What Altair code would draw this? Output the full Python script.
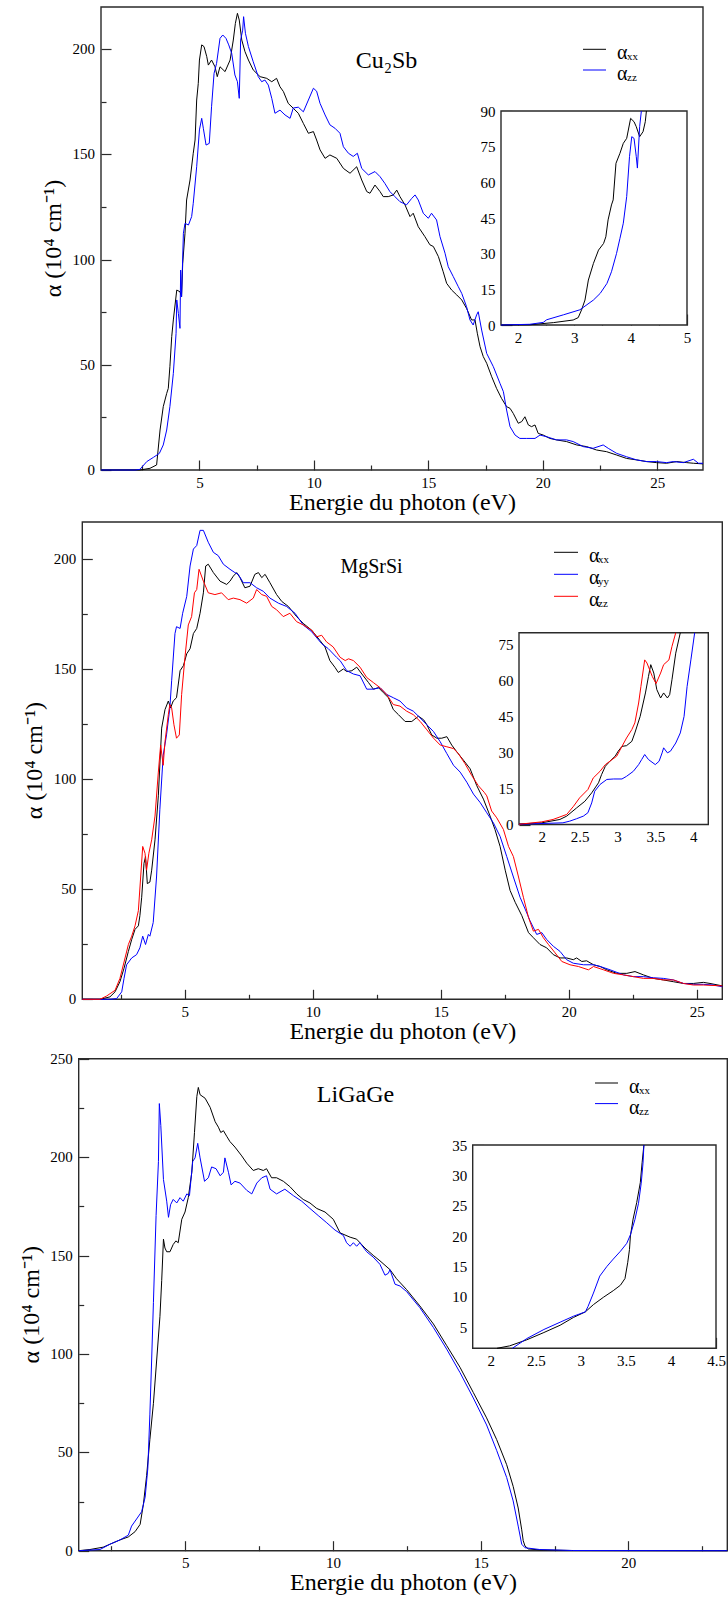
import altair as alt
import pandas as pd

W, H = 728, 1601
FONT = "Liberation Serif"
INK = "#2a2a2a"

# ------------------------------------------------------------------ data
# (photon energy eV, alpha 1e4 cm^-1)
CU_XX = [(0.7,0),(2.4,0),(2.84,0.8),(3.13,2.4),(3.28,19.0),(3.42,30.1),(3.57,36.4),(3.64,38.8),(3.71,49.1),
         (3.79,63.4),(3.86,71.3),(4.01,85.5),(4.15,84.7),(4.22,82.3),(4.27,98.2),(4.37,112.5),(4.44,128.3),
         (4.59,137.8),(4.73,150.5),(4.81,156.8),(4.88,175.8),(4.95,183.7),(5.0,194.8),(5.1,202.0),(5.2,201.2),
         (5.32,196.4),(5.39,192.4),(5.53,194.8),(5.68,191.6),(5.78,186.9),(5.9,191.6),(6.12,189.3),(6.34,194.8),
         (6.48,204.3),(6.57,212.2),(6.66,217.0),(6.74,213.8),(6.85,204.3),(6.99,198.8),(7.14,194.8),(7.35,190.1),
         (7.65,186.9),(7.94,186.1),(8.16,184.5),(8.37,186.1),(8.52,182.1),(8.67,179.8),(8.88,174.2),(9.1,171.9),
         (9.32,169.5),(9.54,164.7),(9.76,160.0),(9.98,160.8),(10.12,156.8),(10.27,152.1),(10.49,148.1),
         (10.7,149.7),(11.0,148.1),(11.29,143.3),(11.58,141.0),(11.87,144.1),(12.09,137.8),(12.31,132.3),
         (12.45,131.5),(12.67,135.4),(12.89,132.3),(13.03,129.9),(13.25,129.9),(13.47,130.7),(13.62,133.0),
         (13.76,129.9),(13.98,126.0),(14.2,120.4),(14.34,122.0),(14.56,115.6),(14.85,110.9),(15.07,107.0),
         (15.22,106.2),(15.44,101.4),(15.65,94.2),(15.8,88.7),(16.02,85.5),(16.24,83.2),(16.46,80.8),
         (16.67,76.8),(16.89,71.3),(17.04,71.3),(17.14,65.0),(17.26,58.6),(17.4,53.9),(17.55,50.7),(17.77,44.3),
         (17.98,38.8),(18.2,34.0),(18.42,30.1),(18.57,29.3),(18.71,26.9),(18.93,22.2),(19.08,23.0),(19.22,25.3),
         (19.37,21.4),(19.51,20.6),(19.66,21.4),(19.8,17.4),(20.02,16.6),(20.31,15.0),(20.6,14.3),(21.04,13.5),
         (21.48,11.9),(21.92,11.1),(22.35,9.5),(22.79,8.7),(23.23,7.1),(23.66,5.5),(24.1,4.8),(24.54,4.0),
         (24.97,3.5),(25.41,3.2),(25.85,4.0),(26.29,3.5),(26.58,3.2),(27.0,2.9)]
CU_ZZ = [(0.7,0),(2.19,0),(2.4,0.3),(2.7,4.0),(2.99,6.0),(3.25,7.9),(3.42,11.9),(3.57,19.0),(3.71,30.1),
         (3.86,45.9),(3.98,64.9),(4.01,80.8),(4.08,74.4),(4.15,67.3),(4.18,95.0),(4.22,82.3),(4.3,112.5),
         (4.37,117.2),(4.52,116.4),(4.66,120.4),(4.73,126.7),(4.88,144.1),(5.0,161.6),(5.1,167.1),(5.17,162.4),
         (5.29,154.4),(5.43,155.2),(5.53,172.6),(5.64,188.5),(5.75,193.2),(5.9,205.1),(6.02,206.7),(6.16,205.1),
         (6.28,202.0),(6.41,198.0),(6.55,187.7),(6.66,184.5),(6.74,176.6),(6.8,204.3),(6.89,209.0),(6.93,215.4),
         (7.01,207.5),(7.14,201.2),(7.35,194.0),(7.57,186.9),(7.72,184.5),(7.86,185.3),(8.01,182.9),(8.16,176.6),
         (8.3,169.5),(8.52,171.0),(8.74,168.7),(8.96,167.1),(9.1,172.0),(9.32,172.4),(9.54,170.2),(9.76,175.8),
         (9.98,181.4),(10.12,180.0),(10.27,174.2),(10.49,168.7),(10.7,164.0),(10.92,162.4),(11.14,160.0),
         (11.29,153.6),(11.51,150.5),(11.72,149.0),(11.9,150.5),(12.09,143.3),(12.38,140.2),(12.67,141.8),
         (12.89,139.4),(13.1,136.2),(13.32,132.3),(13.54,129.9),(13.76,127.5),(14.05,126.0),(14.27,129.0),
         (14.42,130.7),(14.56,128.3),(14.78,122.0),(15.0,119.6),(15.14,122.0),(15.36,118.8),(15.51,110.9),
         (15.73,103.0),(15.87,96.6),(16.09,91.9),(16.31,87.1),(16.46,83.9),(16.67,77.6),(16.82,71.3),(16.96,68.9),
         (17.11,73.7),(17.18,75.2),(17.33,66.5),(17.55,55.4),(17.84,49.1),(18.13,41.2),(18.28,37.2),(18.42,28.5),
         (18.57,20.6),(18.79,16.6),(19.0,15.0),(19.3,15.0),(19.66,15.0),(19.88,16.6),(20.17,15.8),(20.6,14.3),
         (21.04,14.3),(21.33,13.5),(21.77,11.1),(22.2,10.3),(22.64,11.9),(22.86,10.3),(23.23,7.9),(23.66,6.3),
         (24.1,4.8),(24.54,4.0),(24.97,4.0),(25.41,3.5),(25.7,4.0),(26.14,3.5),(26.58,5.1),(26.8,3.2),(27.0,3.2)]
CU_IN_XX = [(1.7,0),(2.21,0.1),(2.63,1.0),(2.98,2.1),(3.07,3.1),(3.13,6.4),(3.19,10.5),(3.25,18.9),(3.34,25.9),
            (3.43,31.5),(3.52,34.3),(3.56,37.1),(3.6,44.2),(3.66,50.5),(3.69,52.6),(3.74,68.0),(3.81,72.2),
            (3.87,76.4),(3.93,78.5),(4.0,86.9),(4.06,85.5),(4.1,83.4),(4.16,79.2),(4.22,81.3),(4.26,85.5),(4.28,90)]
CU_IN_ZZ = [(1.7,0),(2.21,0.3),(2.45,1.1),(2.51,2.2),(2.81,4.3),(3.1,6.4),(3.34,10.5),(3.46,13.3),(3.58,17.5),
            (3.66,22.4),(3.75,30.1),(3.81,36.4),(3.87,42.8),(3.93,54.0),(3.98,70.8),(4.02,79.2),(4.06,78.5),
            (4.1,70.8),(4.12,66.0),(4.16,83.4),(4.19,90)]

MG_XX = [(1.0,0),(1.69,0),(2.08,1.1),(2.28,3.4),(2.47,8.0),(2.63,14.1),(2.8,21.8),(2.93,27.2),(3.06,31.8),
         (3.19,33.4),(3.25,38.0),(3.32,46.4),(3.41,61.8),(3.47,64.9),(3.54,52.6),(3.64,53.3),(3.71,58.7),
         (3.84,72.5),(3.97,92.5),(4.1,123.3),(4.23,131.7),(4.36,135.6),(4.45,132.5),(4.55,135.6),(4.68,137.1),
         (4.82,149.4),(4.95,151.7),(5.08,157.1),(5.21,159.4),(5.34,166.3),(5.47,168.6),(5.6,175.5),(5.73,184.8),
         (5.82,197.0),(5.92,197.8),(6.12,194.0),(6.38,190.1),(6.64,188.6),(6.77,190.1),(6.9,192.4),(7.03,194.0),
         (7.16,191.7),(7.35,187.1),(7.55,187.8),(7.74,193.2),(7.88,194.0),(8.01,191.7),(8.14,193.2),(8.33,189.4),
         (8.59,184.0),(8.79,180.9),(9.05,178.6),(9.37,174.0),(9.63,170.9),(9.96,167.8),(10.28,163.2),
         (10.48,160.2),(10.67,154.0),(10.87,150.9),(11.0,148.6),(11.2,150.2),(11.33,149.0),(11.53,149.4),
         (11.72,151.0),(11.92,147.9),(12.18,144.0),(12.37,141.0),(12.57,141.7),(12.76,139.4),(12.96,137.1),
         (13.15,131.7),(13.35,129.4),(13.61,126.3),(13.87,126.3),(14.13,128.7),(14.33,127.1),(14.46,124.8),
         (14.65,120.2),(14.85,118.7),(15.04,118.7),(15.24,119.4),(15.43,115.6),(15.63,112.5),(15.89,108.7),
         (16.15,104.8),(16.41,97.1),(16.67,91.0),(16.93,83.3),(17.12,77.2),(17.32,69.5),(17.52,58.7),(17.71,49.5),
         (17.91,44.1),(18.17,38.0),(18.43,30.3),(18.62,28.0),(18.88,24.9),(19.14,23.4),(19.4,20.3),(19.66,18.8),
         (19.92,18.8),(20.18,18.0),(20.31,18.8),(20.51,17.2),(20.7,17.5),(20.97,15.7),(21.23,14.9),(21.49,13.4),
         (21.88,11.8),(22.27,11.8),(22.59,12.6),(22.92,11.1),(23.31,9.5),(23.7,8.8),(24.09,8.0),(24.48,7.2),
         (24.87,7.2),(25.26,7.7),(25.52,7.2),(26.0,6.1)]
MG_YY = [(1.0,0),(2.08,0),(2.34,0.3),(2.54,3.4),(2.63,9.5),(2.73,15.7),(2.93,18.8),(3.12,20.3),(3.25,23.4),
         (3.36,28.7),(3.47,24.9),(3.58,29.5),(3.64,28.7),(3.77,34.9),(3.9,55.6),(4.03,86.4),(4.16,111.0),
         (4.29,120.2),(4.42,132.5),(4.49,144.8),(4.62,166.3),(4.68,169.4),(4.82,168.6),(4.92,175.5),(5.08,183.2),
         (5.21,197.0),(5.34,204.7),(5.47,206.3),(5.6,213.2),(5.73,213.2),(5.92,207.8),(6.12,203.2),(6.31,201.7),
         (6.51,197.8),(6.77,195.5),(6.96,194.0),(7.09,193.2),(7.29,189.4),(7.55,189.4),(7.81,187.1),(8.07,185.5),
         (8.33,182.4),(8.66,180.1),(8.98,178.6),(9.31,175.5),(9.63,170.2),(9.96,167.1),(10.35,161.7),
         (10.61,159.4),(10.93,155.5),(11.07,154.0),(11.33,149.4),(11.59,147.9),(11.85,147.1),(12.11,141.0),
         (12.37,141.0),(12.63,141.7),(12.89,138.6),(13.15,137.1),(13.41,135.6),(13.67,132.5),(13.93,131.0),
         (14.2,127.9),(14.46,124.8),(14.72,121.7),(14.98,117.1),(15.24,111.7),(15.5,106.4),(15.76,103.3),
         (16.02,98.7),(16.28,93.3),(16.54,89.5),(16.8,84.8),(17.06,80.2),(17.32,74.1),(17.58,64.9),(17.84,55.6),
         (18.1,46.4),(18.3,41.0),(18.49,35.7),(18.75,29.5),(18.95,30.3),(19.14,27.2),(19.4,24.1),(19.66,21.8),
         (19.92,18.0),(20.18,16.4),(20.58,15.7),(20.97,15.7),(21.23,14.9),(21.62,13.4),(22.14,11.1),(22.53,10.3),
         (22.92,10.3),(23.31,9.8),(23.7,9.5),(24.09,8.8),(24.48,7.2),(24.87,6.8),(25.26,6.8),(25.65,6.5),(26.0,5.7)]
MG_ZZ = [(1.0,0),(1.69,0),(1.95,1.5),(2.28,4.1),(2.47,9.5),(2.67,18.8),(2.8,24.9),(2.93,28.7),(3.06,33.4),
         (3.19,40.3),(3.28,55.6),(3.36,69.5),(3.45,66.4),(3.51,58.7),(3.6,66.4),(3.71,72.5),(3.84,83.3),
         (3.97,103.3),(4.06,115.6),(4.16,106.4),(4.23,117.1),(4.36,129.4),(4.42,134.0),(4.49,132.5),(4.58,124.8),
         (4.68,118.7),(4.79,120.2),(4.88,138.6),(5.01,155.5),(5.14,170.2),(5.27,174.0),(5.38,184.8),(5.47,186.3),
         (5.56,195.5),(5.73,190.1),(5.92,184.8),(6.18,184.0),(6.44,184.8),(6.7,181.7),(6.9,182.4),(7.16,181.7),
         (7.42,180.1),(7.68,182.4),(7.81,186.3),(8.01,184.0),(8.2,183.2),(8.4,178.6),(8.59,177.1),(8.85,174.0),
         (9.11,175.5),(9.37,171.7),(9.63,170.2),(9.96,167.8),(10.15,164.8),(10.35,165.5),(10.54,162.5),
         (10.8,160.2),(11.07,155.5),(11.27,154.0),(11.4,154.8),(11.59,154.0),(11.85,151.0),(12.11,146.3),
         (12.37,144.0),(12.63,141.7),(12.89,138.6),(13.15,134.0),(13.41,133.3),(13.67,131.0),(13.93,129.4),
         (14.2,126.3),(14.46,122.5),(14.72,118.7),(14.98,115.6),(15.24,114.8),(15.5,114.0),(15.69,111.7),
         (15.95,107.1),(16.21,101.8),(16.47,97.1),(16.7,94.1),(16.8,92.5),(16.99,85.6),(17.19,82.5),(17.45,77.2),
         (17.65,69.5),(17.84,64.9),(18.04,55.6),(18.23,46.4),(18.43,37.2),(18.62,31.0),(18.82,31.8),(19.01,28.0),
         (19.21,24.9),(19.47,21.1),(19.73,17.2),(20.05,15.7),(20.38,14.9),(20.77,13.4),(20.97,14.9),(21.36,13.4),
         (21.75,11.8),(22.14,11.1),(22.53,10.3),(22.92,9.5),(23.31,9.5),(23.7,8.8),(24.09,8.8),(24.48,7.2),
         (24.87,6.5),(25.26,6.5),(26.0,6.1)]
MG_IN_XX = [(1.7,0.2),(2.0,0.7),(2.24,2.1),(2.33,3.5),(2.46,6.9),(2.57,9.7),(2.66,13.2),(2.75,17.4),(2.79,20.8),
            (2.84,24.3),(2.9,26.4),(2.97,28.5),(3.01,30.6),(3.06,32.6),(3.12,32.9),(3.19,34.7),(3.23,38.2),
            (3.3,45.1),(3.37,54.9),(3.41,61.8),(3.44,66.7),(3.48,63.2),(3.52,56.3),(3.57,52.8),(3.61,54.9),
            (3.66,52.8),(3.69,54.2),(3.72,60.4),(3.77,71.5),(3.83,80)]
MG_IN_YY = [(1.7,0.1),(2.28,0.7),(2.37,1.4),(2.46,2.4),(2.55,3.5),(2.61,4.9),(2.66,9.0),(2.7,13.9),(2.77,16.7),
            (2.86,18.8),(2.95,19.0),(3.06,19.0),(3.12,20.1),(3.21,22.2),(3.28,25.0),(3.32,27.1),(3.36,29.2),
            (3.41,27.1),(3.5,25.0),(3.55,26.4),(3.59,29.9),(3.61,32.0),(3.66,29.9),(3.7,30.6),(3.77,34.0),
            (3.83,38.2),(3.88,45.1),(3.92,57.6),(3.97,68.7),(4.02,80)]
MG_IN_ZZ = [(1.7,0.1),(2.0,1.1),(2.15,2.1),(2.33,4.2),(2.42,7.6),(2.5,11.1),(2.61,14.6),(2.68,19.4),(2.77,22.2),
            (2.84,25.0),(2.93,27.1),(2.99,28.5),(3.06,32.6),(3.12,36.1),(3.19,39.6),(3.23,42.4),(3.28,50.7),
            (3.31,57.6),(3.36,68.7),(3.39,67.4),(3.46,61.8),(3.51,58.8),(3.57,63.2),(3.61,66.7),(3.68,68.7),
            (3.72,74.3),(3.77,80)]

LI_XX = [(1.39,0),(1.77,0.6),(2.22,1.8),(2.51,3.7),(2.79,5.5),(3.07,7.0),(3.3,9.7),(3.47,13.4),(3.58,23.5),
         (3.69,38.2),(3.8,56.5),(3.92,74.9),(4.03,96.9),(4.14,118.9),(4.2,137.2),(4.26,158.3),(4.31,153.8),
         (4.37,151.9),(4.48,151.9),(4.59,155.6),(4.68,157.4),(4.76,156.5),(4.88,168.4),(4.99,172.1),(5.1,179.4),
         (5.22,192.3),(5.31,212.5),(5.39,230.8),(5.44,235.4),(5.5,231.7),(5.67,229.9),(5.84,225.3),(6.01,218.0),
         (6.12,215.2),(6.2,212.5),(6.29,213.4),(6.4,210.6),(6.51,207.9),(6.68,205.1),(6.91,200.6),(7.08,196.9),
         (7.3,193.2),(7.47,194.1),(7.64,193.2),(7.75,194.1),(7.92,189.5),(8.09,189.5),(8.32,187.7),(8.54,185.0),
         (8.77,181.3),(8.99,178.5),(9.22,176.7),(9.45,173.9),(9.73,172.1),(10.01,168.4),(10.24,161.5),
         (10.58,159.3),(10.8,158.3),(11.08,153.8),(11.36,150.1),(11.59,147.3),(11.93,142.8),(12.15,138.2),
         (12.49,132.7),(12.94,124.4),(13.4,115.2),(13.85,104.2),(14.3,93.2),(14.75,80.4),(15.2,67.5),
         (15.54,56.5),(15.88,43.7),(16.1,32.7),(16.27,21.7),(16.39,10.6),(16.44,5.1),(16.5,2.4),(16.61,0.9),
         (17.0,0.4),(18.1,0.1),(23.35,0)]
LI_ZZ = [(1.39,0),(2.11,0.6),(2.45,3.3),(2.79,5.5),(3.07,7.9),(3.18,12.5),(3.35,16.1),(3.52,19.8),(3.64,27.2),
         (3.73,41.8),(3.8,69.4),(3.86,96.9),(3.92,126.2),(4.01,170.3),(4.09,197.8),(4.12,227.2),(4.17,216.1),
         (4.26,188.6),(4.37,177.6),(4.43,169.4),(4.5,175.8),(4.59,178.5),(4.71,176.7),(4.82,179.4),(4.93,177.6),
         (5.05,181.3),(5.14,180.4),(5.25,197.8),(5.33,199.6),(5.42,207.0),(5.5,199.6),(5.65,187.7),(5.78,189.5),
         (5.89,195.0),(6.04,194.1),(6.18,190.5),(6.29,192.3),(6.34,199.6),(6.46,192.3),(6.55,185.9),(6.68,187.7),
         (6.85,186.8),(7.08,183.1),(7.25,181.3),(7.42,186.8),(7.59,189.5),(7.75,190.5),(7.87,183.7),(8.09,181.3),
         (8.37,183.7),(8.66,180.4),(8.94,177.6),(9.22,173.9),(9.5,170.3),(9.79,166.6),(10.07,162.9),(10.35,160.2),
         (10.46,156.5),(10.58,154.7),(10.69,156.5),(10.8,154.7),(10.91,156.5),(11.14,151.9),(11.36,149.2),
         (11.59,145.5),(11.76,140.0),(11.87,140.9),(11.93,142.8),(12.1,135.4),(12.27,134.5),(12.49,131.7),
         (12.94,123.5),(13.4,113.4),(13.85,102.4),(14.3,90.5),(14.75,77.6),(15.2,63.9),(15.54,51.0),(15.88,37.2),
         (16.1,25.3),(16.27,12.5),(16.39,3.3),(16.5,1.5),(17.0,0.6),(18.1,0.1),(23.35,0)]
LI_IN_XX = [(2.07,1.5),(2.21,1.9),(2.4,2.9),(2.59,4.1),(2.77,5.3),(2.92,6.6),(3.05,7.5),(3.14,8.7),(3.25,9.9),
            (3.36,11.0),(3.44,11.9),(3.49,13.0),(3.52,15.6),(3.54,17.8),(3.55,20.0),(3.58,22.8),(3.62,25.5),
            (3.66,28.8),(3.68,32.1),(3.7,35)]
LI_IN_ZZ = [(2.24,1.5),(2.4,3.1),(2.59,4.6),(2.77,5.8),(2.92,6.8),(3.05,7.5),(3.08,8.4),(3.14,10.6),(3.21,13.4),
            (3.29,15.0),(3.36,16.2),(3.44,17.5),(3.51,18.8),(3.55,20.2),(3.6,22.7),(3.64,25.4),(3.67,28.7),
            (3.69,32.0),(3.7,35)]

NAMES2 = ["xx", "zz"]
NAMES3 = ["xx", "yy", "zz"]
COLORS2 = ["#000000", "#0000ff"]
COLORS3 = ["#000000", "#0000ff", "#ff0000"]
TITLES = ["Cu₂Sb", "MgSrSi", "LiGaGe"]
XTITLE = "Energie du photon (eV)"
YTITLE = "α (10⁴ cm⁻¹)"


def to_df(series):
    rows = []
    for name, pts in series:
        for e, a in pts:
            rows.append({"e": e, "a": a, "s": name})
    return pd.DataFrame(rows)


def sc(dom, rng):
    return alt.Scale(domain=dom, range=rng, zero=False, nice=False)


def tick_axis(orient, offset, vals, size):
    return alt.Axis(orient=orient, offset=offset, values=vals, labels=False, domain=False, grid=False,
                    ticks=True, tickSize=size, tickColor=INK, tickWidth=1.2, title=None)


def box(xdom, ydom, xr, yr, xmaj, xmin, ymaj, ymin, tmaj, tmin, fill_op):
    frame = pd.DataFrame({"x0": [xdom[0]], "x1": [xdom[1]], "y0": [ydom[0]], "y1": [ydom[1]]})
    a = alt.Chart(frame).mark_rect(fill="white", fillOpacity=fill_op, stroke=INK, strokeWidth=1.4).encode(
        x=alt.X("x0:Q", scale=sc(xdom, xr), axis=tick_axis("top", -yr[0], xmaj, tmaj)),
        x2=alt.X2("x1"),
        y=alt.Y("y0:Q", scale=sc(ydom, yr), axis=tick_axis("right", xr[0] - W, ymaj, tmaj)),
        y2=alt.Y2("y1"))
    b = alt.Chart(frame).mark_rect(opacity=0).encode(
        x=alt.X("x0:Q", scale=sc(xdom, xr), axis=tick_axis("top", -yr[0], xmin, tmin)),
        x2=alt.X2("x1"),
        y=alt.Y("y0:Q", scale=sc(ydom, yr), axis=tick_axis("right", xr[0] - W, ymin, tmin)),
        y2=alt.Y2("y1"))
    return [a, b]


COMMON = dict(ticks=False, tickSize=0, domain=False, grid=False, labelFont=FONT, labelFontSize=15,
              labelColor="#000", labelFlush=False, labelOverlap=False, format=".6~r", minExtent=0)


def lines(df, names, colors, xdom, ydom, xr, yr, xlab, ylab, titled):
    if titled:
        xa = alt.Axis(orient="bottom", offset=yr[0] - H, values=xlab, labelPadding=5, title=XTITLE,
                      titleFont=FONT, titleFontSize=24, titleFontWeight="normal", titleColor="#000",
                      titlePadding=0, **COMMON)
        ya = None
    else:
        xa = alt.Axis(orient="bottom", offset=yr[0] - H, values=xlab, labelPadding=5, title=None, **COMMON)
        ya = alt.Axis(orient="left", offset=-xr[0], values=ylab, labelPadding=6, title=None, **COMMON)
    return alt.Chart(df).mark_line(strokeWidth=1).encode(
        x=alt.X("e:Q", scale=sc(xdom, xr), axis=xa),
        y=alt.Y("a:Q", scale=sc(ydom, yr), axis=ya),
        color=alt.Color("s:N", scale=alt.Scale(domain=names, range=colors), legend=None))


def ylabels(vals, ydom, xr, yr, title_x):
    """Tick labels of a main panel's y axis, placed through its y scale, plus the axis title."""
    lab = alt.Chart(pd.DataFrame({"v": vals})).mark_text(
        font=FONT, fontSize=15, align="right", baseline="middle", color="#000").encode(
        x=alt.value(xr[0] - 6), y=alt.Y("v:Q", scale=sc(ydom, yr), axis=None),
        text=alt.Text("v:Q", format=".6~r"))
    ttl = alt.Chart(pd.DataFrame({"t": [YTITLE]})).mark_text(
        font=FONT, fontSize=24, angle=270, align="center", baseline="middle", color="#000").encode(
        x=alt.value(title_x), y=alt.value((yr[0] + yr[1]) / 2), text="t:N")
    return [lab, ttl]


def legend(names, colors, lx0, lx1, ax, sx, y0, y1):
    leg = pd.DataFrame({"s": names, "sub": names, "k": list(range(len(names)))})
    ysc = alt.Scale(domain=[0, len(names) - 1], range=[y0, y1], zero=False, nice=False)
    col = alt.Color("s:N", scale=alt.Scale(domain=names, range=colors), legend=None)
    r = alt.Chart(leg).mark_rule(strokeWidth=1).encode(
        x=alt.value(lx0), x2=alt.value(lx1), y=alt.Y("k:Q", scale=ysc, axis=None), color=col)
    t1 = alt.Chart(leg).mark_text(text="α", font=FONT, fontSize=20, align="left", baseline="middle",
                                  dy=4, color="#000").encode(
        x=alt.value(ax), y=alt.Y("k:Q", scale=ysc, axis=None))
    t2 = alt.Chart(leg).mark_text(font=FONT, fontSize=11, align="left", baseline="middle",
                                  dy=8, color="#000").encode(
        x=alt.value(sx), y=alt.Y("k:Q", scale=ysc, axis=None), text="sub:N")
    return [r, t1, t2]


def title(txt, x, y, size):
    return alt.Chart(pd.DataFrame({"t": [txt]})).mark_text(
        font=FONT, fontSize=size, align="center", baseline="alphabetic", color="#000").encode(
        x=alt.value(x), y=alt.value(y), text="t:N")


layers = []

# ---------------- panel 1 : Cu2Sb
xd, yd, xr, yr = [0.7, 27], [0, 220], [101, 703], [470, 7]
layers += box(xd, yd, xr, yr, [5, 10, 15, 20, 25], [2.5, 7.5, 12.5, 17.5, 22.5],
              [0, 50, 100, 150, 200], [25, 75, 125, 175], 10, 5, 0)
layers.append(lines(to_df([("xx", CU_XX), ("zz", CU_ZZ)]), NAMES2, COLORS2, xd, yd, xr, yr,
                    [5, 10, 15, 20, 25], [0, 50, 100, 150, 200], True))
layers += ylabels([0, 50, 100, 150, 200], yd, xr, yr, 53.5)
xd, yd, xr, yr = [1.7, 5], [0, 90], [501, 687], [325, 111]
layers += box(xd, yd, xr, yr, [2, 3, 4, 5], [2.5, 3.5, 4.5],
              [0, 15, 30, 45, 60, 75, 90], [7.5, 22.5, 37.5, 52.5, 67.5, 82.5], 11, 5, 1)
layers.append(lines(to_df([("xx", CU_IN_XX), ("zz", CU_IN_ZZ)]), NAMES2, COLORS2, xd, yd, xr, yr,
                    [2, 3, 4, 5], [0, 15, 30, 45, 60, 75, 90], False))
layers += legend(NAMES2, COLORS2, 583, 606, 617, 627, 49.3, 70)
layers.append(title(TITLES[0], 386.5, 68, 24))

# ---------------- panel 2 : MgSrSi
xd, yd, xr, yr = [1, 26], [0, 217], [82.3, 722.3], [999.3, 522]
layers += box(xd, yd, xr, yr, [5, 10, 15, 20, 25], [2.5, 7.5, 12.5, 17.5, 22.5],
              [0, 50, 100, 150, 200], [25, 75, 125, 175], 10, 5, 0)
layers.append(lines(to_df([("xx", MG_XX), ("yy", MG_YY), ("zz", MG_ZZ)]), NAMES3, COLORS3, xd, yd, xr, yr,
                    [5, 10, 15, 20, 25], [0, 50, 100, 150, 200], True))
layers += ylabels([0, 50, 100, 150, 200], yd, xr, yr, 35)
xd, yd, xr, yr = [1.7, 4.2], [0, 80], [519, 708.3], [824.5, 632.8]
layers += box(xd, yd, xr, yr, [2, 2.5, 3, 3.5, 4], [1.75, 2.25, 2.75, 3.25, 3.75],
              [0, 15, 30, 45, 60, 75], [7.5, 22.5, 37.5, 52.5, 67.5], 11, 5, 1)
layers.append(lines(to_df([("xx", MG_IN_XX), ("yy", MG_IN_YY), ("zz", MG_IN_ZZ)]), NAMES3, COLORS3,
                    xd, yd, xr, yr, [2, 2.5, 3, 3.5, 4], [0, 15, 30, 45, 60, 75], False))
layers += legend(NAMES3, COLORS3, 554, 578, 589, 598, 552.3, 596.3)
layers.append(title(TITLES[1], 371.5, 572.6, 20))

# ---------------- panel 3 : LiGaGe
xd, yd, xr, yr = [1.39, 23.35], [0, 250], [78.7, 727.3], [1550.7, 1058.7]
layers += box(xd, yd, xr, yr, [5, 10, 15, 20], [2.5, 7.5, 12.5, 17.5, 22.5],
              [0, 50, 100, 150, 200, 250], [25, 75, 125, 175, 225], 10, 5, 0)
layers.append(lines(to_df([("xx", LI_XX), ("zz", LI_ZZ)]), NAMES2, COLORS2, xd, yd, xr, yr,
                    [5, 10, 15, 20], [0, 50, 100, 150, 200, 250], True))
layers += ylabels([0, 50, 100, 150, 200, 250], yd, xr, yr, 31.5)
xd, yd, xr, yr = [1.8, 4.5], [1.5, 35], [472.7, 716], [1348.3, 1145]
layers += box(xd, yd, xr, yr, [2, 2.5, 3, 3.5, 4, 4.5], [2.25, 2.75, 3.25, 3.75, 4.25],
              [5, 10, 15, 20, 25, 30, 35], [2.5, 7.5, 12.5, 17.5, 22.5, 27.5, 32.5], 11, 5, 1)
layers.append(lines(to_df([("xx", LI_IN_XX), ("zz", LI_IN_ZZ)]), NAMES2, COLORS2, xd, yd, xr, yr,
                    [2, 2.5, 3, 3.5, 4, 4.5], [5, 10, 15, 20, 25, 30, 35], False))
layers += legend(NAMES2, COLORS2, 595, 618, 629, 639, 1083, 1103.6)
layers.append(title(TITLES[2], 355.5, 1101.8, 24))

chart = alt.layer(*layers).resolve_scale(
    x="independent", y="independent", color="independent"
).properties(
    width=W, height=H, padding=0, autosize=alt.AutoSizeParams(type="none"), background="white"
).configure_view(strokeWidth=0)

chart.save("out.html", embed_options={"renderer": "svg", "actions": False})
